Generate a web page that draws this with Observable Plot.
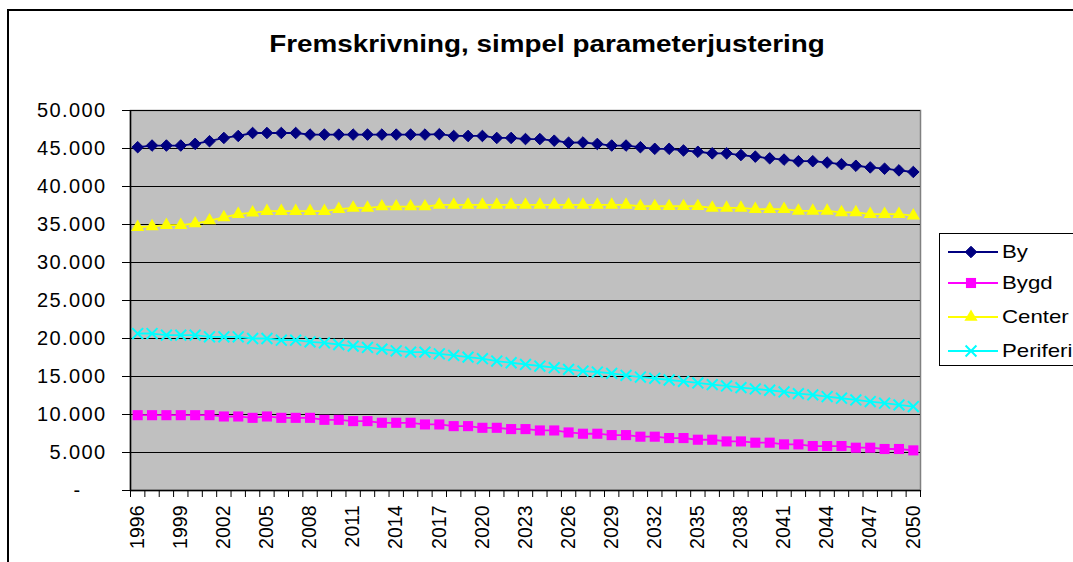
<!DOCTYPE html>
<html><head><meta charset="utf-8">
<script src="https://cdn.jsdelivr.net/npm/d3@7"></script>
<script src="https://cdn.jsdelivr.net/npm/@observablehq/plot@0.6"></script>
<style>
body{margin:0;background:#fff;font-family:"Liberation Sans",Arial,sans-serif;overflow:hidden}
#wrap{position:relative;width:1073px;height:562px;overflow:hidden;background:#fff}
#border{position:absolute;left:7px;top:9px;width:1200px;height:700px;border-top:2px solid #000;border-left:2px solid #000}
#title{position:absolute;left:546.5px;top:33px;font-size:23.5px;font-weight:bold;white-space:nowrap;transform:translateX(-50%) scaleX(1.185);line-height:1}
#chart{position:absolute;left:0;top:0}
#legend{position:absolute;left:939px;top:233px;width:200px;height:131px;border:1px solid #000;background:#fff}
.item{position:absolute;left:8px;height:24px;display:flex;align-items:center}
.item span{font-size:19px;transform:scaleX(1.17);transform-origin:left center;margin-left:4px;white-space:nowrap}
g[aria-label="y-axis tick label"] text{letter-spacing:1.4px}
</style>
</head>
<body>
<div id="wrap">
  <div id="border"></div>
  <div id="chart"></div>
  <div id="title">Fremskrivning, simpel parameterjustering</div>
  <div id="legend"></div>
</div>
<script>
const years = d3.range(1996, 2051);
const labelYears = [1996,1999,2002,2005,2008,2011,2014,2017,2020,2023,2026,2029,2032,2035,2038,2041,2044,2047,2050];
const yTicks = [0,5000,10000,15000,20000,25000,30000,35000,40000,45000,50000];
const seriesNames = ["By","Bygd","Center","Periferi"];

const by = [45170,45390,45390,45390,45610,45960,46390,46650,47040,47040,47040,47040,46830,46830,46830,46830,46830,46830,46830,46830,46830,46880,46650,46650,46650,46390,46390,
  46245,46245,46030,45770,45790,45600,45390,45390,45170,44960,44960,44740,44570,44360,44360,44140,43930,43710,43540,43330,43330,43150,42940,42730,42510,42340,42120,41910];
const bygd = [9910,9910,9910,9910,9910,9910,9740,9740,9560,9740,9560,9560,9560,9300,9300,9130,9130,8910,8910,8910,8690,8690,8470,8470,8250,8250,8080,
  8080,7900,7900,7640,7470,7470,7290,7290,7080,7080,6900,6900,6680,6680,6460,6460,6290,6290,6070,6070,5850,5850,5850,5630,5630,5460,5460,5280];
const center = [34660,34740,34910,34910,35130,35520,35940,36370,36550,36760,36760,36760,36760,36760,37020,37190,37190,37360,37360,37360,37360,37580,37580,37580,37580,37580,37580,
  37580,37580,37580,37580,37580,37580,37580,37580,37400,37400,37400,37400,37400,37190,37190,37190,37020,37020,37020,36800,36800,36800,36590,36590,36370,36370,36370,36160];
const periferi = [20655,20655,20440,20440,20440,20220,20220,20220,20000,20000,19780,19780,19560,19430,19210,19000,18820,18600,18380,18210,18210,17990,17770,17550,17340,17030,16810,
  16590,16380,16160,15940,15720,15590,15410,15150,14930,14760,14540,14370,14150,13930,13760,13540,13360,13190,12970,12750,12580,12360,12140,11920,11700,11490,11270,11050];

const styles = {
  "By":       {color:"#000080", symbol:"diamond2", r:5.2, fill:"#000080", stroke:"#000080", sw:1},
  "Bygd":     {color:"#FF00FF", symbol:"square",   r:5.7, fill:"#FF00FF", stroke:"none", sw:0},
  "Center":   {color:"#FFFF00", symbol:"triangle", r:4.9, fill:"#FFFF00", stroke:"none", sw:0},
  "Periferi": {color:"#00FFFF", symbol:"times",    r:5.0, fill:"none",    stroke:"#00FFFF", sw:2}
};
const values = {"By": by, "Bygd": bygd, "Center": center, "Periferi": periferi};

const rows = seriesNames.map(name => years.map((yr, i) => ({year: yr, value: values[name][i]})));
const boundaries = years.concat([years[years.length-1] + 1]).map(y => y - 0.5);
const loc = d3.formatLocale({decimal: ",", thousands: ".", grouping: [3], currency: ["", ""]});
const fmt = loc.format(",d");

const marks = [
  Plot.frame({fill: "#c0c0c0", stroke: "#808080", strokeWidth: 1.5}),
  Plot.gridY(yTicks, {stroke: "#000", strokeOpacity: 1, strokeWidth: 1}),
  Plot.ruleX([boundaries[0]], {stroke: "#000", strokeWidth: 1.5}),
  Plot.ruleY([0], {stroke: "#000", strokeWidth: 1.5}),
  Plot.axisY(yTicks, {tickSize: 8, tickPadding: 16, fontSize: 20, label: null,
    tickFormat: d => d === 0 ? "-\u2007\u2007" : fmt(d)}),
  Plot.axisX(boundaries, {tickSize: 7, tickFormat: () => "", label: null}),
  Plot.axisX(labelYears, {tickSize: 0, tickPadding: 15, tickRotate: -90, fontSize: 19.5, label: null,
    tickFormat: d => String(d)})
];
seriesNames.forEach((name, k) => {
  const s = styles[name];
  marks.push(Plot.line(rows[k], {x: "year", y: "value", stroke: s.color, strokeWidth: 1.8}));
});
seriesNames.forEach((name, k) => {
  const s = styles[name];
  marks.push(Plot.dot(rows[k], {x: "year", y: "value", symbol: () => s.symbol, r: s.r,
    fill: s.fill, stroke: s.stroke, strokeWidth: s.sw}));
});

const chart = Plot.plot({
  width: 1073, height: 562,
  marginLeft: 130, marginRight: 153, marginTop: 110, marginBottom: 72,
  style: {fontFamily: "'Liberation Sans', Arial, sans-serif", background: "transparent", color: "#000"},
  x: {type: "linear", domain: [boundaries[0], boundaries[boundaries.length-1]]},
  y: {domain: [0, 50000]},
  symbol: {type: "identity"},
  marks
});
document.getElementById("chart").appendChild(chart);

// legend
const legend = document.getElementById("legend");
const tops = [6, 37, 71, 105];
seriesNames.forEach((name, k) => {
  const s = styles[name];
  const item = document.createElement("div");
  item.className = "item";
  item.style.top = tops[k] + "px";
  const size = Math.PI * s.r * s.r;
  const symMap = {diamond2: d3.symbolDiamond2, square: d3.symbolSquare, triangle: d3.symbolTriangle, times: d3.symbolTimes};
  const path = d3.symbol(symMap[s.symbol], size)();
  item.innerHTML = `<svg width="50" height="24"><line x1="0" x2="50" y1="12" y2="12" stroke="${s.color}" stroke-width="1.8"/>` +
    `<path d="${path}" transform="translate(23,12)" fill="${s.fill}" stroke="${s.stroke}" stroke-width="${s.sw}"/></svg><span>${name}</span>`;
  legend.appendChild(item);
});
</script>
</body></html>
